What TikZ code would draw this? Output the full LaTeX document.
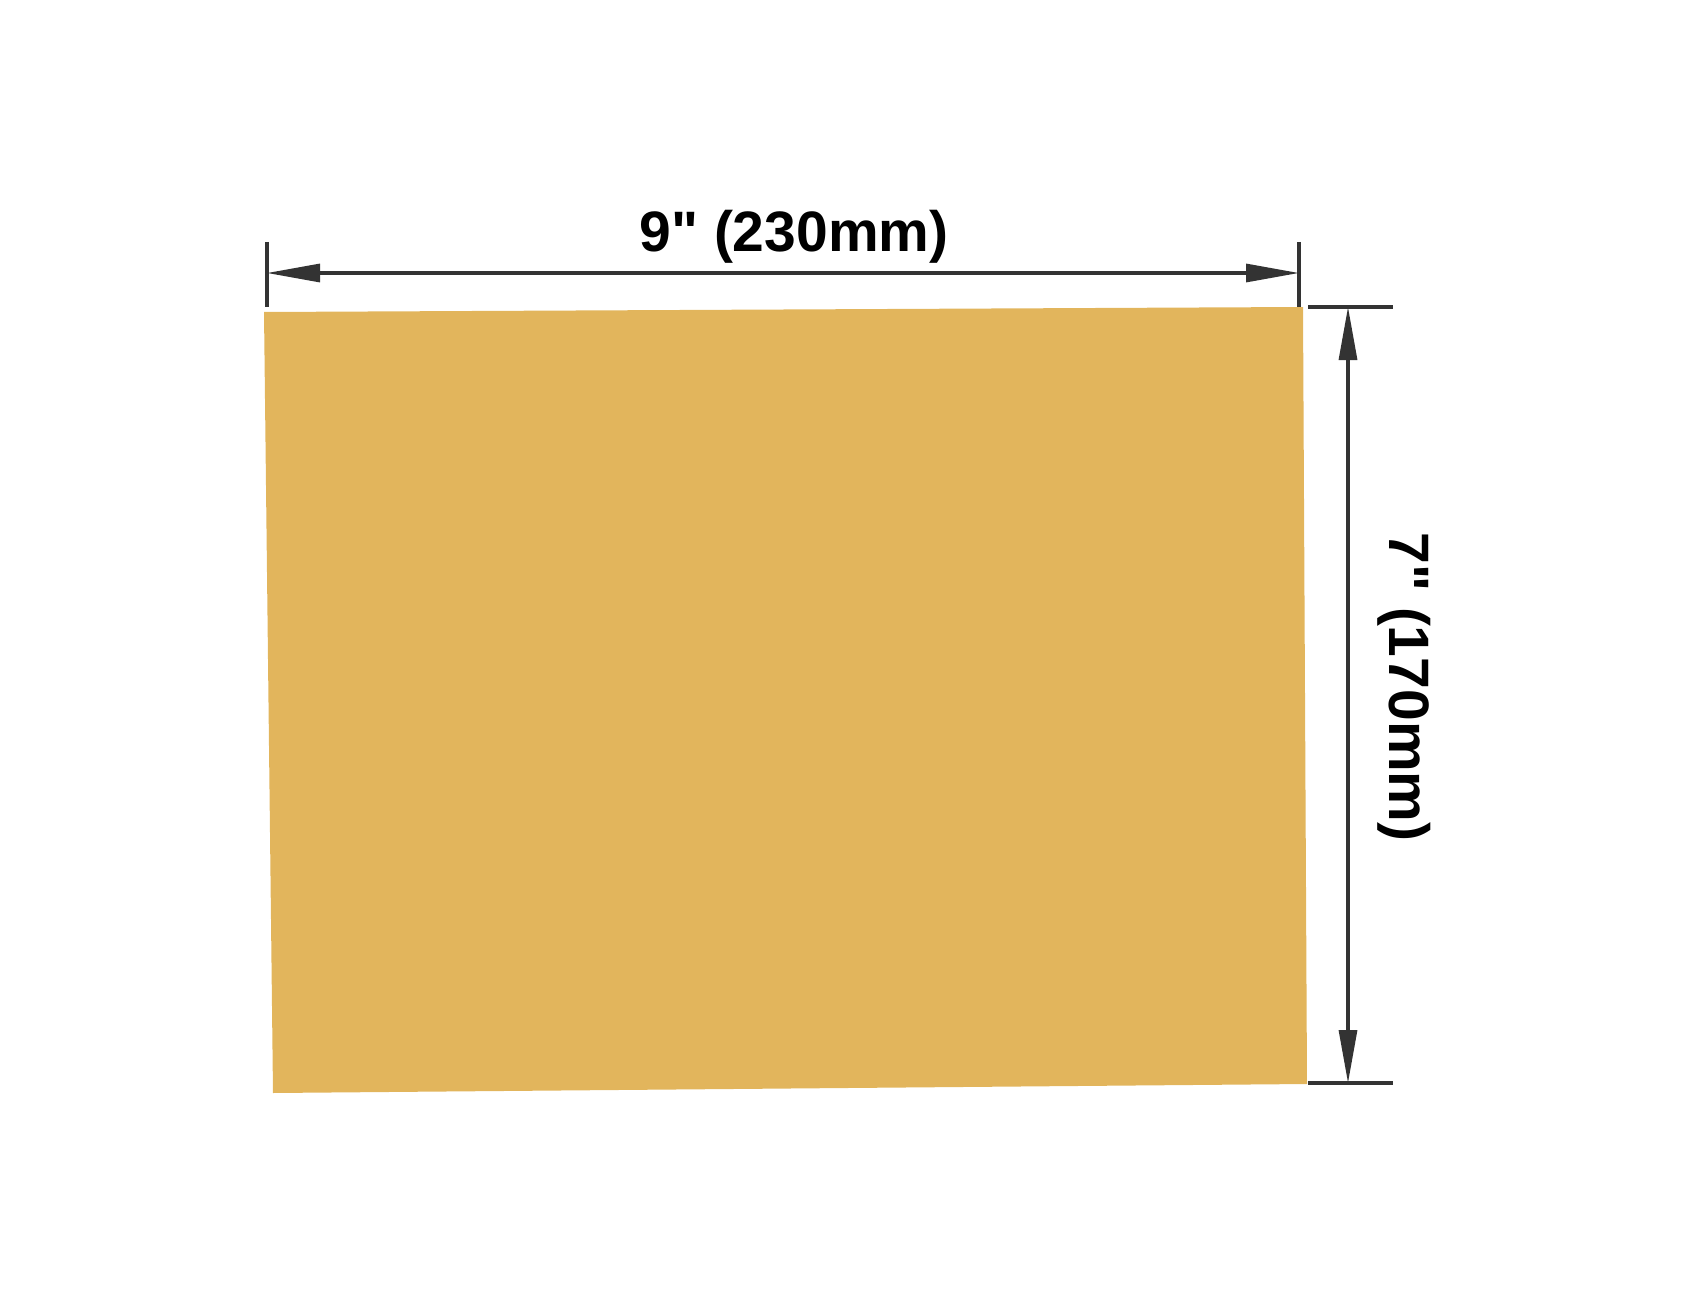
\documentclass[tikz,border=0pt]{standalone}
\usepackage{fontspec}
\setmainfont{Liberation Sans}[Ligatures=TeXOff]
\usetikzlibrary{arrows.meta}
\definecolor{sheetgold}{RGB}{226,181,92}
\definecolor{dimgray}{RGB}{51,51,51}
\tikzset{
  dimline/.style={draw=dimgray, line width=3.2pt, {Triangle[length=53pt,width=18pt]}-{Triangle[length=53pt,width=18pt]}},
  dimtick/.style={draw=dimgray, line width=3.2pt},
  dimlabel/.style={font=\bfseries\fontsize{57}{60}\selectfont, inner sep=0pt}
}
\begin{document}
\begin{tikzpicture}[x=1pt, y=-1pt]
				\useasboundingbox (0,0) rectangle (1690,1300);
				% sanding sheet
				\coordinate (TL) at (264,312);
				\coordinate (TR) at (1303,307);
				\coordinate (BR) at (1307,1084);
				\coordinate (BL) at (273,1093);
				\fill[sheetgold] (TL) -- (TR) -- (BR) -- (BL) -- cycle;
				% width
				\coordinate (WA) at (267,242);
				\coordinate (WB) at (267,307);
				\coordinate (WC) at (1299,242);
				\coordinate (WD) at (1299,307);
				\draw[dimtick] (WA) -- (WB);
				\draw[dimtick] (WC) -- (WD);
				\draw[dimline] (267,273) -- (1299,273);
				\node[dimlabel, anchor=base] (W) at (794,252) {9" (230mm)};
				% height
				\coordinate (HA) at (1308,307);
				\coordinate (HB) at (1393,307);
				\coordinate (HC) at (1308,1083);
				\coordinate (HD) at (1393,1083);
				\draw[dimtick] (HA) -- (HB);
				\draw[dimtick] (HC) -- (HD);
				\draw[dimline] (1348,307) -- (1348,1083);
				\node[dimlabel, anchor=base, rotate=-90] (H) at (1389,687) {7" (170mm)};
			\end{tikzpicture}
\end{document}
